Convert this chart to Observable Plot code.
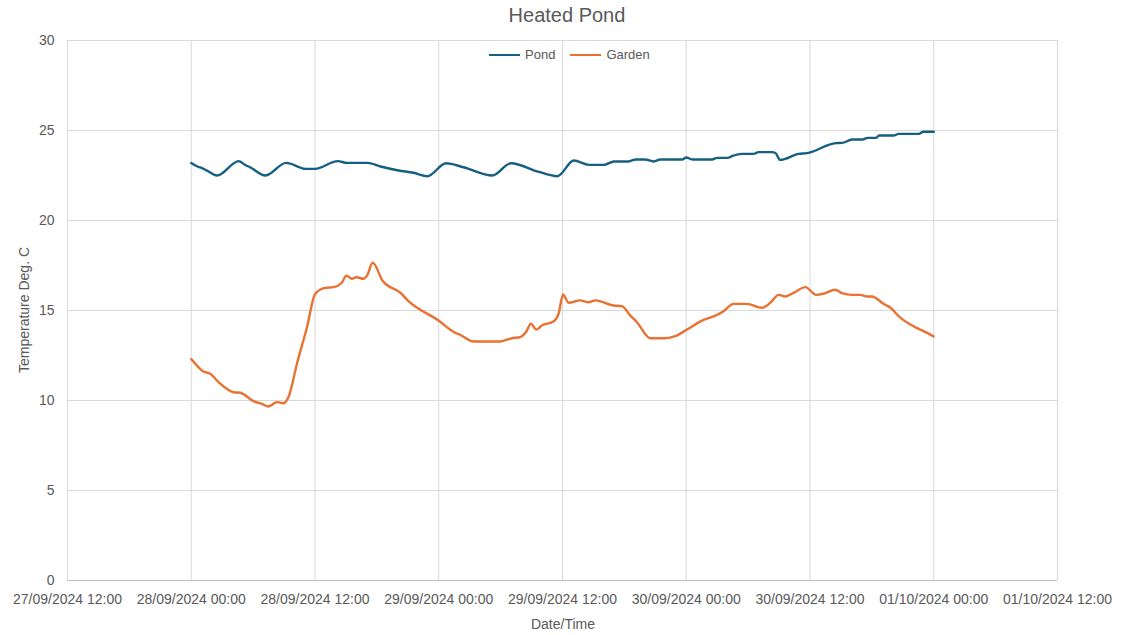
<!DOCTYPE html>
<html>
<head>
<meta charset="utf-8">
<script src="https://cdn.jsdelivr.net/npm/d3@7"></script>
<script src="https://cdn.jsdelivr.net/npm/@observablehq/plot@0.6"></script>
<style>
  html, body { margin: 0; padding: 0; background: #fff; }
  #wrap { position: relative; width: 1126px; height: 635px; font-family: "Liberation Sans", Arial, sans-serif; color: #595959; }
  #title { position: absolute; left: 0; width: 1134px; top: 4px; text-align: center; font-size: 20px; }
  #legend { position: absolute; top: 47px; left: 489px; font-size: 13px; display: flex; align-items: center; }
  .sw { display: inline-block; width: 31px; height: 0; border-top: 2.5px solid; margin-right: 5px; }
  .item { display: flex; align-items: center; margin-right: 15px; }
  #xlabel { position: absolute; left: 0; width: 1126px; top: 616px; text-align: center; font-size: 14px; }
  #ylabel { position: absolute; left: 24px; top: 310px; transform: translate(-50%, -50%) rotate(-90deg); font-size: 14px; white-space: nowrap; }
  svg { position: absolute; left: 0; top: 0; }
</style>
</head>
<body>
<div id="wrap">
  <div id="chart"></div>
  <div id="title">Heated Pond</div>
  <div id="legend"></div>
  <div id="xlabel">Date/Time</div>
  <div id="ylabel">Temperature Deg. C</div>
</div>
<script>
// Hours since 28/09/2024 00:00
const pondHours = [0, 0.6, 1.1, 1.6, 2.5, 4.6, 5.2, 5.7, 7.2, 9.2, 11.1, 12.0, 14.2, 15.1, 17.1, 18.35, 20.1, 21.55, 22.9, 24.7, 26.4, 29.2, 31.0, 33.7, 35.5, 37.1, 38.55, 40.0, 41.0, 42.4, 43.1, 44.0, 44.85, 45.5, 47.6, 48.0, 48.6, 50.5, 51.0, 52.0, 52.5, 53.4, 54.55, 55.0, 56.3, 56.65, 57.1, 58.9, 59.7, 62.5, 63.1, 64.1, 65.1, 65.6, 66.4, 66.7, 68.1, 68.6, 70.55, 71.0, 72.0];
const pondValues = [23.2, 23.0, 22.9, 22.75, 22.5, 23.3, 23.1, 22.96, 22.5, 23.2, 22.87, 22.87, 23.3, 23.2, 23.2, 23.0, 22.78, 22.65, 22.46, 23.18, 22.96, 22.5, 23.18, 22.7, 22.46, 23.33, 23.09, 23.09, 23.28, 23.28, 23.39, 23.39, 23.28, 23.39, 23.39, 23.5, 23.39, 23.39, 23.48, 23.48, 23.59, 23.7, 23.7, 23.8, 23.8, 23.75, 23.37, 23.7, 23.74, 24.3, 24.31, 24.5, 24.5, 24.59, 24.59, 24.72, 24.72, 24.81, 24.81, 24.93, 24.93];

const gardenHours = [0, 1.13, 1.84, 2.65, 4.1, 4.75, 6.04, 6.86, 7.5, 8.31, 8.95, 9.43, 10.25, 11.22, 12.02, 12.99, 13.8, 14.6, 15.03, 15.58, 16.0, 16.7, 17.04, 17.6, 18.57, 20.27, 21.07, 23.98, 25.6, 26.08, 27.37, 29.96, 31.1, 31.9, 32.46, 32.94, 33.45, 34.0, 35.13, 35.62, 36.05, 36.59, 37.72, 38.53, 39.18, 40.95, 41.76, 42.57, 43.22, 44.51, 45.96, 46.93, 48.07, 49.68, 50.65, 51.62, 52.59, 53.88, 55.34, 56.15, 56.95, 57.6, 58.4, 59.54, 60.6, 61.31, 62.45, 63.1, 64.07, 64.87, 65.52, 66.0, 67.13, 67.95, 68.43, 70.53, 71.01, 71.98];
const gardenValues = [12.3, 11.63, 11.48, 11.02, 10.46, 10.43, 9.96, 9.81, 9.67, 9.91, 9.85, 10.19, 12.04, 14.07, 15.93, 16.26, 16.3, 16.54, 16.94, 16.76, 16.85, 16.76, 16.94, 17.65, 16.64, 15.99, 15.52, 14.44, 13.76, 13.65, 13.28, 13.28, 13.46, 13.52, 13.8, 14.26, 13.94, 14.17, 14.39, 14.81, 15.89, 15.43, 15.56, 15.46, 15.56, 15.28, 15.24, 14.72, 14.35, 13.46, 13.46, 13.57, 13.94, 14.48, 14.67, 14.96, 15.37, 15.37, 15.15, 15.43, 15.87, 15.78, 15.98, 16.3, 15.87, 15.93, 16.15, 15.96, 15.87, 15.87, 15.78, 15.78, 15.37, 15.09, 14.78, 13.98, 13.85, 13.56];

const seriesNames = ["Pond", "Garden"];
const seriesColors = ["#156082", "#E97132"];
const yTicks = [0, 5, 10, 15, 20, 25, 30];
const xTickLabels = ["27/09/2024 12:00", "28/09/2024 00:00", "28/09/2024 12:00", "29/09/2024 00:00", "29/09/2024 12:00", "30/09/2024 00:00", "30/09/2024 12:00", "01/10/2024 00:00", "01/10/2024 12:00"];

const parseLabel = d3.timeParse("%d/%m/%Y %H:%M");
const xTicks = xTickLabels.map(parseLabel);
const start = new Date(2024, 8, 28, 0, 0);
const toDate = h => new Date(start.getTime() + h * 3600e3);

const data = [
  ...pondHours.map((h, i) => ({series: "Pond", time: toDate(h), value: pondValues[i]})),
  ...gardenHours.map((h, i) => ({series: "Garden", time: toDate(h), value: gardenValues[i]}))
];

const chart = Plot.plot({
  width: 1126,
  height: 635,
  marginLeft: 67,
  marginRight: 69,
  marginTop: 40,
  marginBottom: 55,
  style: {fontFamily: "Liberation Sans, Arial, sans-serif", fontSize: "14px", color: "#595959", background: "transparent"},
  x: {type: "time", domain: [xTicks[0], xTicks[xTicks.length - 1]]},
  y: {domain: [0, 30]},
  color: {domain: seriesNames, range: seriesColors},
  marks: [
    Plot.gridX(xTicks, {stroke: "#d9d9d9", strokeOpacity: 1}),
    Plot.gridY(yTicks, {stroke: "#d9d9d9", strokeOpacity: 1}),
    Plot.ruleY([0], {stroke: "#bfbfbf"}),
    Plot.axisX(xTicks, {tickSize: 0, tickPadding: 14, tickFormat: d3.timeFormat("%d/%m/%Y %H:%M"), label: null, fill: "#595959", fontSize: 14}),
    Plot.axisY(yTicks, {tickSize: 0, tickPadding: 13, label: null, fill: "#595959", fontSize: 14}),
    Plot.line(data, {x: "time", y: "value", z: "series", stroke: "series", strokeWidth: 2.4, curve: "monotone-x"})
  ]
});
document.getElementById("chart").appendChild(chart);

const legend = document.getElementById("legend");
seriesNames.forEach((name, i) => {
  const item = document.createElement("span");
  item.className = "item";
  const sw = document.createElement("span");
  sw.className = "sw";
  sw.style.borderColor = seriesColors[i];
  item.appendChild(sw);
  item.appendChild(document.createTextNode(name));
  legend.appendChild(item);
});
</script>
</body>
</html>
